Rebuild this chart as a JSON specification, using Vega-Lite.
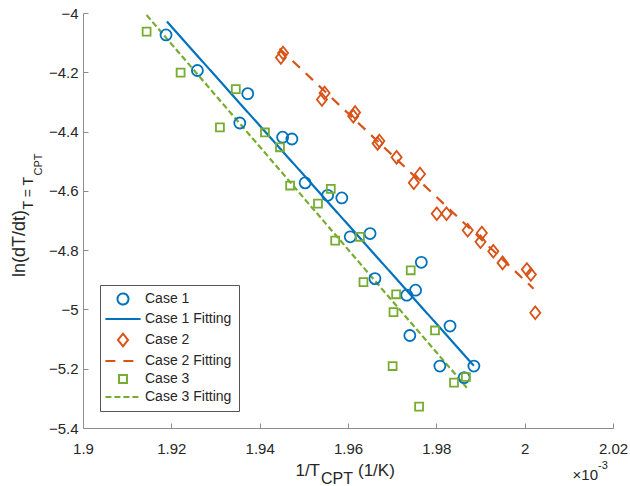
{
  "$schema": "https://vega.github.io/schema/vega-lite/v6.json",
  "width": 530,
  "height": 415,
  "autosize": {"type": "none"},
  "padding": {"left": 83, "top": 13, "right": 17, "bottom": 58},
  "background": "white",
  "config": {
    "view": {"stroke": null},
    "font": "Liberation Sans",
    "axis": {
      "grid": false,
      "title": null,
      "domainColor": "#8c8c8c",
      "domainWidth": 1,
      "tickColor": "#8c8c8c",
      "tickWidth": 1,
      "tickSize": -5,
      "labelFont": "Liberation Sans",
      "labelFontSize": 15,
      "labelColor": "#262626",
      "labelFlush": false,
      "labelOverlap": false
    },
    "legend": {
      "orient": "bottom-left",
      "offset": 17,
      "padding": 7,
      "strokeColor": "#555555",
      "fillColor": "white",
      "cornerRadius": 0,
      "labelFont": "Liberation Sans",
      "labelFontSize": 14,
      "labelColor": "#262626",
      "symbolSize": 121,
      "symbolStrokeWidth": 2,
      "symbolOffset": 9,
      "labelOffset": 15,
      "rowPadding": 3
    }
  },
  "datasets": {
    "points": [
      {"series": "Case 1", "x": 1.9188, "y": -4.074},
      {"series": "Case 1", "x": 1.9259, "y": -4.194},
      {"series": "Case 1", "x": 1.9373, "y": -4.272},
      {"series": "Case 1", "x": 1.9355, "y": -4.371},
      {"series": "Case 1", "x": 1.9452, "y": -4.419},
      {"series": "Case 1", "x": 1.9473, "y": -4.425},
      {"series": "Case 1", "x": 1.9503, "y": -4.573},
      {"series": "Case 1", "x": 1.9554, "y": -4.615},
      {"series": "Case 1", "x": 1.9586, "y": -4.624},
      {"series": "Case 1", "x": 1.9605, "y": -4.755},
      {"series": "Case 1", "x": 1.965, "y": -4.744},
      {"series": "Case 1", "x": 1.9661, "y": -4.896},
      {"series": "Case 1", "x": 1.9733, "y": -4.952},
      {"series": "Case 1", "x": 1.9753, "y": -4.935},
      {"series": "Case 1", "x": 1.9766, "y": -4.841},
      {"series": "Case 1", "x": 1.974, "y": -5.088},
      {"series": "Case 1", "x": 1.9831, "y": -5.056},
      {"series": "Case 1", "x": 1.9808, "y": -5.191},
      {"series": "Case 1", "x": 1.9885, "y": -5.191},
      {"series": "Case 1", "x": 1.9863, "y": -5.23},
      {"series": "Case 2", "x": 1.9448, "y": -4.15},
      {"series": "Case 2", "x": 1.9453, "y": -4.135},
      {"series": "Case 2", "x": 1.9541, "y": -4.292},
      {"series": "Case 2", "x": 1.9547, "y": -4.27},
      {"series": "Case 2", "x": 1.9612, "y": -4.348},
      {"series": "Case 2", "x": 1.9616, "y": -4.336},
      {"series": "Case 2", "x": 1.9667, "y": -4.44},
      {"series": "Case 2", "x": 1.9671, "y": -4.432},
      {"series": "Case 2", "x": 1.971, "y": -4.487},
      {"series": "Case 2", "x": 1.9763, "y": -4.543},
      {"series": "Case 2", "x": 1.9749, "y": -4.573},
      {"series": "Case 2", "x": 1.9801, "y": -4.677},
      {"series": "Case 2", "x": 1.9823, "y": -4.677},
      {"series": "Case 2", "x": 1.9871, "y": -4.733},
      {"series": "Case 2", "x": 1.9903, "y": -4.742},
      {"series": "Case 2", "x": 1.99, "y": -4.772},
      {"series": "Case 2", "x": 1.9929, "y": -4.804},
      {"series": "Case 2", "x": 1.995, "y": -4.843},
      {"series": "Case 2", "x": 2.0005, "y": -4.865},
      {"series": "Case 2", "x": 2.0014, "y": -4.882},
      {"series": "Case 2", "x": 2.0024, "y": -5.011},
      {"series": "Case 3", "x": 1.9144, "y": -4.063},
      {"series": "Case 3", "x": 1.9221, "y": -4.201},
      {"series": "Case 3", "x": 1.9346, "y": -4.257},
      {"series": "Case 3", "x": 1.931, "y": -4.386},
      {"series": "Case 3", "x": 1.9412, "y": -4.403},
      {"series": "Case 3", "x": 1.9446, "y": -4.453},
      {"series": "Case 3", "x": 1.9469, "y": -4.582},
      {"series": "Case 3", "x": 1.9561, "y": -4.593},
      {"series": "Case 3", "x": 1.9532, "y": -4.643},
      {"series": "Case 3", "x": 1.9571, "y": -4.768},
      {"series": "Case 3", "x": 1.9627, "y": -4.755},
      {"series": "Case 3", "x": 1.9635, "y": -4.908},
      {"series": "Case 3", "x": 1.9742, "y": -4.868},
      {"series": "Case 3", "x": 1.9709, "y": -4.949},
      {"series": "Case 3", "x": 1.9703, "y": -5.009},
      {"series": "Case 3", "x": 1.9797, "y": -5.071},
      {"series": "Case 3", "x": 1.9701, "y": -5.191},
      {"series": "Case 3", "x": 1.9867, "y": -5.228},
      {"series": "Case 3", "x": 1.984, "y": -5.247},
      {"series": "Case 3", "x": 1.9761, "y": -5.328}
    ],
    "fits": [
      {"series": "Case 1 Fitting", "x": 1.919, "y": -4.029},
      {"series": "Case 1 Fitting", "x": 1.9885, "y": -5.19},
      {"series": "Case 2 Fitting", "x": 1.9445, "y": -4.12},
      {"series": "Case 2 Fitting", "x": 2.002, "y": -4.93},
      {"series": "Case 3 Fitting", "x": 1.9144, "y": -4.007},
      {"series": "Case 3 Fitting", "x": 1.9869, "y": -5.264}
    ]
  },
  "layer": [
    {
      "data": {"name": "fits"},
      "mark": {"type": "line", "strokeWidth": 2.2},
      "encoding": {
        "x": {"field": "x", "type": "quantitative",
              "scale": {"domain": [1.9, 2.02], "nice": false, "zero": false},
              "axis": {"values": [1.9, 1.92, 1.94, 1.96, 1.98, 2, 2.02], "format": "~g", "labelPadding": 18}},
        "y": {"field": "y", "type": "quantitative",
              "scale": {"domain": [-5.4, -4], "nice": false, "zero": false},
              "axis": {"values": [-5.4, -5.2, -5, -4.8, -4.6, -4.4, -4.2, -4], "format": "~g", "labelPadding": 10}},
        "color": {"field": "series", "type": "nominal",
                  "scale": {"domain": ["Case 1", "Case 1 Fitting", "Case 2", "Case 2 Fitting", "Case 3", "Case 3 Fitting"],
                            "range": ["#0072BD", "#0072BD", "#D95319", "#D95319", "#77AC30", "#77AC30"]},
                  "legend": {"title": null}},
        "strokeDash": {"field": "series", "type": "nominal",
                       "scale": {"domain": ["Case 1", "Case 1 Fitting", "Case 2", "Case 2 Fitting", "Case 3", "Case 3 Fitting"],
                                 "range": [[1, 0], [1, 0], [1, 0], [10, 8], [1, 0], [6, 3]]},
                       "legend": {"title": null}}
      }
    },
    {
      "data": {"name": "points"},
      "mark": {"type": "point", "filled": false, "opacity": 1, "strokeWidth": 1.8, "size": 121},
      "encoding": {
        "x": {"field": "x", "type": "quantitative"},
        "y": {"field": "y", "type": "quantitative"},
        "color": {"field": "series", "type": "nominal", "legend": {"title": null}},
        "shape": {"field": "series", "type": "nominal",
                  "scale": {"domain": ["Case 1", "Case 1 Fitting", "Case 2", "Case 2 Fitting", "Case 3", "Case 3 Fitting"],
                            "range": ["circle", "M-3.2,0L3.2,0", "M-0.92,0L0,-1.15L0.92,0L0,1.15Z", "M-3.2,0L3.2,0", "M-0.72,-0.72L0.72,-0.72L0.72,0.72L-0.72,0.72Z", "M-3.2,0L3.2,0"]},
                  "legend": {"title": null}}
      }
    },
    {
      "data": {"values": [{}]},
      "mark": {"type": "text", "text": "1/T", "align": "right", "baseline": "alphabetic", "dx": -28, "dy": 48, "fontSize": 17, "color": "#262626"},
      "encoding": {"x": {"datum": 1.96}, "y": {"datum": -5.4}}
    },
    {
      "data": {"values": [{}]},
      "mark": {"type": "text", "text": "CPT", "align": "left", "baseline": "alphabetic", "dx": -27, "dy": 56, "fontSize": 16, "color": "#262626"},
      "encoding": {"x": {"datum": 1.96}, "y": {"datum": -5.4}}
    },
    {
      "data": {"values": [{}]},
      "mark": {"type": "text", "text": "(1/K)", "align": "left", "baseline": "alphabetic", "dx": 10, "dy": 48, "fontSize": 17, "color": "#262626"},
      "encoding": {"x": {"datum": 1.96}, "y": {"datum": -5.4}}
    },
    {
      "data": {"values": [{}]},
      "mark": {"type": "text", "text": "×10", "align": "right", "baseline": "alphabetic", "dx": -15, "dy": 52, "fontSize": 15, "color": "#262626"},
      "encoding": {"x": {"datum": 2.02}, "y": {"datum": -5.4}}
    },
    {
      "data": {"values": [{}]},
      "mark": {"type": "text", "text": "-3", "align": "left", "baseline": "alphabetic", "dx": -15, "dy": 41, "fontSize": 11, "color": "#262626"},
      "encoding": {"x": {"datum": 2.02}, "y": {"datum": -5.4}}
    },
    {
      "data": {"values": [{}]},
      "mark": {"type": "text", "text": "ln(dT/dt)", "angle": 270, "align": "left", "baseline": "alphabetic", "dx": -56.5, "dy": -58, "fontSize": 18, "color": "#262626"},
      "encoding": {"x": {"datum": 1.9}, "y": {"datum": -4.7}}
    },
    {
      "data": {"values": [{}]},
      "mark": {"type": "text", "text": "T = T", "angle": 270, "align": "left", "baseline": "alphabetic", "dx": 11, "dy": -50, "fontSize": 14, "color": "#262626"},
      "encoding": {"x": {"datum": 1.9}, "y": {"datum": -4.7}}
    },
    {
      "data": {"values": [{}]},
      "mark": {"type": "text", "text": "CPT", "angle": 270, "align": "left", "baseline": "alphabetic", "dx": 45, "dy": -41, "fontSize": 11, "color": "#262626"},
      "encoding": {"x": {"datum": 1.9}, "y": {"datum": -4.7}}
    }
  ]
}
